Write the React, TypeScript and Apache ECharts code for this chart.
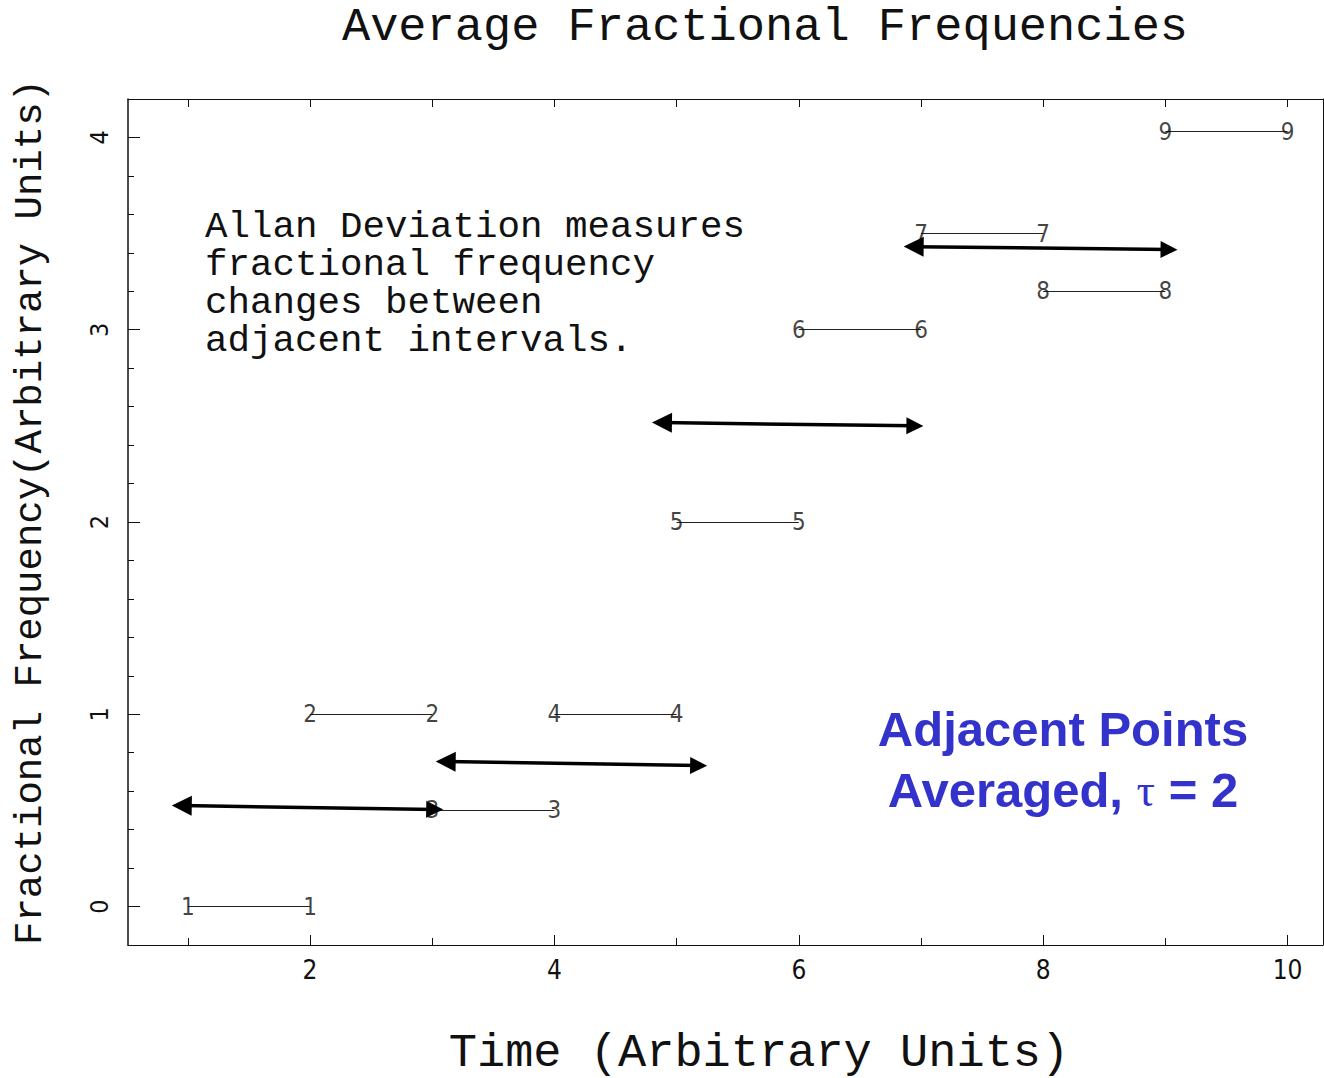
import React, { useEffect, useRef } from "react";
import * as echarts from "echarts";

// Segment data (tau = 1 averages)
const segLabels = ["1", "2", "3", "4", "5", "6", "7", "8", "9"];
const segStart = [1, 2, 3, 4, 5, 6, 7, 8, 9];
const segEnd = [2, 3, 4, 5, 6, 7, 8, 9, 10];
const segLevel = [0, 1, 0.5, 1, 2, 3, 3.5, 3.2, 4.03];

// Double-headed arrows (adjacent averaged points, tau = 2)
const arrowFromX = [0.95, 3.11, 4.88, 6.94];
const arrowFromY = [0.525, 0.754, 2.517, 3.432];
const arrowToX = [3.02, 5.18, 6.95, 9.03];
const arrowToY = [0.505, 0.733, 2.5, 3.417];

// Axis ticks
const xMajorTicks = [2, 4, 6, 8, 10];
const xMinorTicks = [1, 3, 5, 7, 9];
const xTopTicks = [1, 2, 3, 4, 5, 6, 7, 8, 9, 10];
const yMajorTicks = [0, 1, 2, 3, 4];
const yMinorTicks = [0.2, 0.4, 0.6, 0.8, 1.2, 1.4, 1.6, 1.8, 2.2, 2.4, 2.6, 2.8, 3.2, 3.4, 3.6, 3.8];

const title = "Average Fractional Frequencies";
const xTitle = "Time (Arbitrary Units)";
const yTitle = "Fractional Frequency(Arbitrary Units)";
const noteLines = [
  "Allan Deviation measures",
  "fractional frequency",
  "changes between",
  "adjacent intervals.",
];
const blueLine1 = "Adjacent Points";
const blueLine2a = "Averaged, ";
const blueTau = "\u03c4";
const blueLine2b = " = 2";

const MONO = "'Liberation Mono', 'DejaVu Sans Mono', monospace";
const NARROW = "'Liberation Sans Narrow', 'DejaVu Sans Condensed', 'Liberation Sans', sans-serif";
const SANS = "'Liberation Sans', Arial, sans-serif";
const SERIF = "'Liberation Serif', 'DejaVu Serif', serif";

const X_MIN = 0.51;
const X_MAX = 10.29;
const Y_MIN = -0.2;
const Y_MAX = 4.2;

export default function App() {
  const ref = useRef<HTMLDivElement>(null);

  useEffect(() => {
    if (!ref.current) return;
    const chart = echarts.init(ref.current, null, { renderer: "svg" });

    const segLines = segStart.map((s, i) => ({
      coords: [
        [s, segLevel[i]],
        [segEnd[i], segLevel[i]],
      ],
    }));
    const segPoints: any[] = [];
    segStart.forEach((s, i) => {
      segPoints.push([s, segLevel[i], segLabels[i]]);
      segPoints.push([segEnd[i], segLevel[i], segLabels[i]]);
    });
    const arrows = arrowFromX.map((x, i) => ({
      coords: [
        [x, arrowFromY[i]],
        [arrowToX[i], arrowToY[i]],
      ],
    }));

    const tickLabelStyle = {
      color: "#111",
      fontFamily: NARROW,
      fontSize: 26,
    };

    const option: any = {
      animation: false,
      backgroundColor: "#ffffff",
      grid: { left: 128, right: 1, top: 99, bottom: 133, containLabel: false },
      xAxis: [
        {
          type: "value",
          position: "bottom",
          min: X_MIN,
          max: X_MAX,
          axisLine: { show: true, onZero: false, lineStyle: { color: "#111", width: 1.2 } },
          axisTick: {
            show: true,
            inside: true,
            length: 10,
            customValues: xMajorTicks,
            lineStyle: { color: "#111", width: 1 },
          },
          axisLabel: {
            show: true,
            margin: 12,
            customValues: xMajorTicks,
            ...tickLabelStyle,
          },
          splitLine: { show: false },
        },
        {
          type: "value",
          position: "bottom",
          min: X_MIN,
          max: X_MAX,
          axisLine: { show: false, onZero: false },
          axisTick: {
            show: true,
            inside: true,
            length: 7,
            customValues: xMinorTicks,
            lineStyle: { color: "#111", width: 1 },
          },
          axisLabel: { show: false },
          splitLine: { show: false },
        },
        {
          type: "value",
          position: "top",
          min: X_MIN,
          max: X_MAX,
          axisLine: { show: true, onZero: false, lineStyle: { color: "#111", width: 1.2 } },
          axisTick: {
            show: true,
            inside: true,
            length: 8,
            customValues: xTopTicks,
            lineStyle: { color: "#111", width: 1 },
          },
          axisLabel: { show: false },
          splitLine: { show: false },
        },
      ],
      yAxis: [
        {
          type: "value",
          position: "left",
          min: Y_MIN,
          max: Y_MAX,
          axisLine: { show: true, onZero: false, lineStyle: { color: "#111", width: 1.5 } },
          axisTick: {
            show: true,
            inside: true,
            length: 12,
            customValues: yMajorTicks,
            lineStyle: { color: "#111", width: 1 },
          },
          axisLabel: {
            show: true,
            rotate: 90,
            margin: 16,
            customValues: yMajorTicks,
            ...tickLabelStyle,
            fontSize: 25,
          },
          splitLine: { show: false },
        },
        {
          type: "value",
          position: "left",
          min: Y_MIN,
          max: Y_MAX,
          axisLine: { show: false, onZero: false },
          axisTick: {
            show: true,
            inside: true,
            length: 6,
            customValues: yMinorTicks,
            lineStyle: { color: "#111", width: 1 },
          },
          axisLabel: { show: false },
          splitLine: { show: false },
        },
        {
          type: "value",
          position: "right",
          min: Y_MIN,
          max: Y_MAX,
          axisLine: { show: true, onZero: false, lineStyle: { color: "#111", width: 1 } },
          axisTick: { show: false },
          axisLabel: { show: false },
          splitLine: { show: false },
        },
      ],
      series: [
        {
          type: "lines",
          coordinateSystem: "cartesian2d",
          xAxisIndex: 0,
          yAxisIndex: 0,
          data: segLines,
          symbol: ["none", "none"],
          lineStyle: { color: "#222", width: 1, opacity: 1 },
          silent: true,
          z: 2,
        },
        {
          type: "scatter",
          xAxisIndex: 0,
          yAxisIndex: 0,
          data: segPoints,
          symbol: "circle",
          symbolSize: 1,
          itemStyle: { color: "rgba(0,0,0,0)" },
          label: {
            show: true,
            position: "inside",
            formatter: (p: any) => p.value[2],
            color: "#111",
            fontFamily: NARROW,
            fontSize: 24,
          },
          silent: true,
          z: 3,
        },
        {
          type: "lines",
          coordinateSystem: "cartesian2d",
          xAxisIndex: 0,
          yAxisIndex: 0,
          data: arrows,
          symbol: ["triangle", "triangle"],
          symbolSize: [20, 17],
          lineStyle: { color: "#000", width: 3.5, opacity: 1 },
          itemStyle: { color: "#000" },
          silent: true,
          z: 4,
        },
      ],
      graphic: [
        {
          type: "text",
          x: 765,
          y: 27,
          style: {
            text: title,
            fontFamily: MONO,
            fontSize: 47,
            fill: "#111",
            textAlign: "center",
            textVerticalAlign: "middle",
          },
        },
        {
          type: "text",
          x: 759,
          y: 1053,
          style: {
            text: xTitle,
            fontFamily: MONO,
            fontSize: 47,
            fill: "#111",
            textAlign: "center",
            textVerticalAlign: "middle",
          },
        },
        {
          type: "text",
          x: 31,
          y: 512,
          rotation: Math.PI / 2,
          style: {
            text: yTitle,
            fontFamily: MONO,
            fontSize: 39,
            fill: "#111",
            textAlign: "center",
            textVerticalAlign: "middle",
          },
        },
        {
          type: "text",
          x: 205,
          y: 208,
          style: {
            text: noteLines.join("\n"),
            fontFamily: MONO,
            fontSize: 37.5,
            lineHeight: 38,
            fill: "#111",
            textAlign: "left",
            textVerticalAlign: "top",
          },
        },
        {
          type: "text",
          x: 1063,
          y: 729,
          style: {
            text: blueLine1,
            fontFamily: SANS,
            fontWeight: "bold",
            fontSize: 49,
            fill: "#3333CC",
            textAlign: "center",
            textVerticalAlign: "middle",
          },
        },
        {
          type: "text",
          x: 1063,
          y: 790,
          style: {
            text: "{a|" + blueLine2a + "}{t|" + blueTau + "}{a|" + blueLine2b + "}",
            textAlign: "center",
            textVerticalAlign: "middle",
            rich: {
              a: {
                fontFamily: SANS,
                fontWeight: "bold",
                fontSize: 49,
                fill: "#3333CC",
                color: "#3333CC",
              },
              t: {
                fontFamily: SERIF,
                fontWeight: "normal",
                fontSize: 46,
                fill: "#3333CC",
                color: "#3333CC",
              },
            },
          },
        },
      ],
    };

    chart.setOption(option);
    return () => {
      chart.dispose();
    };
  }, []);

  return (
    <div
      ref={ref}
      style={{ position: "fixed", left: 0, top: 0, width: 1324, height: 1078, background: "#fff" }}
    />
  );
}
